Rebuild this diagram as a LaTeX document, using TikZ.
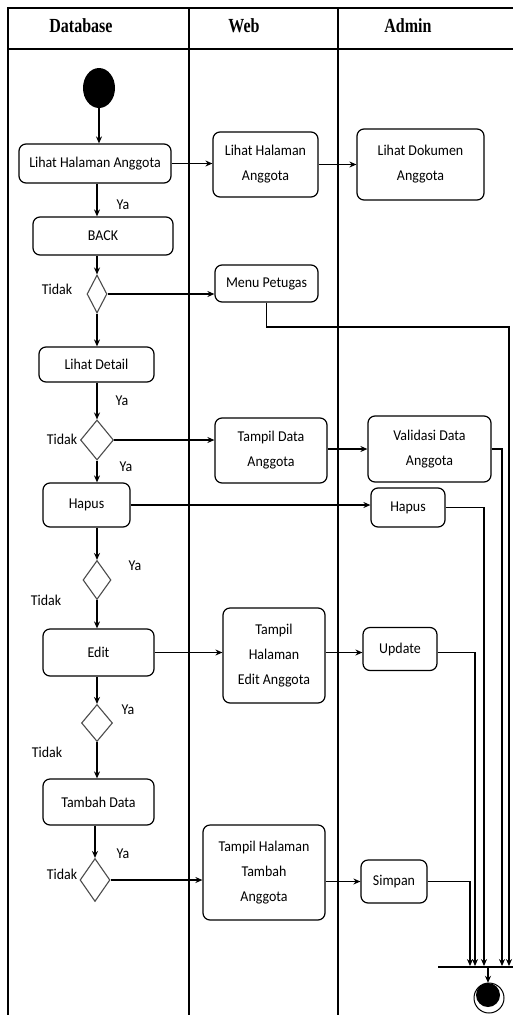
\documentclass[tikz,border=0pt]{standalone}
\usepackage{fontspec}
\setmainfont{Carlito}
\newfontfamily\mybodyfont[FakeStretch=0.93]{Carlito}
\newfontfamily\myhdrfont[FakeStretch=0.8]{Liberation Serif}
\usetikzlibrary{shapes.geometric,arrows.meta}
\newcommand{\mybody}{\mybodyfont\fontsize{15}{25}\selectfont}
\newcommand{\myhdr}{\myhdrfont\bfseries\fontsize{20}{24}\selectfont}
\begin{document}
\begin{tikzpicture}[x=1pt,y=-1pt,
 act/.style={draw, rounded corners=7pt, line width=1.2pt, inner sep=0pt, align=center, font=\mybody},
 dec/.style={draw=black!70, diamond, line width=1.1pt, inner sep=0pt},
 lbl/.style={inner sep=0pt, font=\mybody},
 hdr/.style={inner sep=0pt, font=\myhdr},
 lane/.style={line width=1.3pt},
 flow/.style={line width=1.2pt, -{Stealth[length=7pt,width=6pt]}}]
\useasboundingbox (0,0) rectangle (512,1015);
\fill[white] (0,0) rectangle (512,1015);
% swimlanes
\draw[lane] (514,8) -- (8,8) -- (8,1016);
\draw[lane] (8,49) -- (514,49);
\draw[lane] (189,8) -- (189,1016);
\draw[lane] (338,8) -- (338,1016);
\node[hdr] (hDb) at (81,26) {Database};
\node[hdr] (hWeb) at (244,26) {Web};
\node[hdr] (hAdm) at (408,26) {Admin};
% start
\node[ellipse, fill=black, minimum width=32, minimum height=40, inner sep=0pt] (init) at (99,88) {};
% activities
\node[act, minimum width=152, minimum height=39] (dbLihat) at (95,163.5) {Lihat Halaman Anggota};
\node[act, minimum width=105, minimum height=65] (webLihat) at (265.5,164.5) {Lihat Halaman\\Anggota};
\node[act, minimum width=127, minimum height=71] (admDok) at (420.5,164.5) {Lihat Dokumen\\Anggota};
\node[act, minimum width=140, minimum height=38] (back) at (103,236) {BACK};
\node[act, minimum width=103, minimum height=37] (menu) at (266.5,283.5) {Menu Petugas};
\node[act, minimum width=115, minimum height=35] (detail) at (96.5,364.5) {Lihat Detail};
\node[act, minimum width=112, minimum height=65] (tampilData) at (271,450.5) {Tampil Data\\Anggota};
\node[act, minimum width=123, minimum height=66] (validasi) at (429.5,449) {Validasi Data\\Anggota};
\node[act, minimum width=87, minimum height=44] (hapusDb) at (86.5,505) {Hapus};
\node[act, minimum width=74, minimum height=39] (hapusAdm) at (408,507.5) {Hapus};
\node[act, minimum width=111, minimum height=47] (edit) at (98.5,652.5) {Edit};
\node[act, minimum width=102, minimum height=95] (tampilEdit) at (274,655.5) {Tampil\\Halaman\\Edit Anggota};
\node[act, minimum width=74, minimum height=43] (update) at (400,649) {Update};
\node[act, minimum width=111, minimum height=46] (tambah) at (98.5,802) {Tambah Data};
\node[act, minimum width=122, minimum height=95] (tampilTambah) at (264,872.5) {Tampil Halaman\\Tambah\\Anggota};
\node[act, minimum width=66, minimum height=43] (simpan) at (394,881.5) {Simpan};
% decisions
\node[dec, minimum width=20, minimum height=38] (d1) at (97,294) {};
\node[dec, minimum width=33, minimum height=40] (d2) at (97,440) {};
\node[dec, minimum width=28, minimum height=39] (d3) at (97,580) {};
\node[dec, minimum width=31, minimum height=37] (d4) at (97,723) {};
\node[dec, minimum width=30, minimum height=43] (d5) at (95,880) {};
% join bar and end
\node[fill=black, minimum width=76, minimum height=1.5, inner sep=0pt] (bar) at (476,967) {};
\node[circle, draw, line width=1pt, minimum size=30, inner sep=0pt] (finO) at (489,998) {};
\node[circle, fill=black, minimum size=24, inner sep=0pt] (fin) at (488,995) {};
% coordinates of the right-side collector lines
\coordinate (c1) at (470,0);
\coordinate (c2) at (475,0);
\coordinate (c3) at (484,0);
\coordinate (c4) at (502,0);
\coordinate (m1) at (509,327);
% labels
\node[lbl] (ya1) at (123,205) {Ya};
\node[lbl] (ti1) at (57,289) {Tidak};
\node[lbl] (ya2) at (122,401) {Ya};
\node[lbl] (ti2) at (62,439) {Tidak};
\node[lbl] (ya3) at (126,467) {Ya};
\node[lbl] (ya4) at (135,566) {Ya};
\node[lbl] (ti4) at (46,600) {Tidak};
\node[lbl] (ya5) at (128,710) {Ya};
\node[lbl] (ti5) at (47,752) {Tidak};
\node[lbl] (ya6) at (123,854) {Ya};
\node[lbl] (ti6) at (62,874) {Tidak};
% flows
\draw[flow] (init.south) -- (init.south |- dbLihat.north);
\draw[flow] (dbLihat.east) -- (webLihat.west |- dbLihat.east);
\draw[flow] (webLihat.east) -- (admDok.west |- webLihat.east);
\draw[flow] (dbLihat.south -| d1) -- (back.north -| d1);
\draw[flow] (back.south -| d1) -- (d1.north);
\draw[flow] (d1.east) -- (menu.west |- d1.east);
\draw[flow] (menu.south) |- (m1) -- (m1 |- bar.north);
\draw[flow] (d1.south) -- (detail.north -| d1);
\draw[flow] (detail.south -| d2) -- (d2.north);
\draw[flow] (d2.east) -- (tampilData.west |- d2.east);
\draw[flow] (tampilData.east |- validasi.west) -- (validasi.west);
\draw[flow] (validasi.east) -| (c4 |- bar.north);
\draw[flow] (d2.south) -- (hapusDb.north -| d2);
\draw[flow] (hapusDb.east) -- (hapusAdm.west |- hapusDb.east);
\draw[flow] (hapusAdm.east) -| (c3 |- bar.north);
\draw[flow] (hapusDb.south -| d3) -- (d3.north);
\draw[flow] (d3.south) -- (edit.north -| d3);
\draw[flow] (edit.east) -- (tampilEdit.west |- edit.east);
\draw[flow] (tampilEdit.east |- edit.east) -- (update.west |- edit.east);
\draw[flow] (update.east |- edit.east) -| (c2 |- bar.north);
\draw[flow] (edit.south -| d4) -- (d4.north);
\draw[flow] (d4.south) -- (tambah.north -| d4);
\draw[flow] (tambah.south -| d5) -- (d5.north);
\draw[flow] (d5.east) -- (tampilTambah.west |- d5.east);
\draw[flow] (tampilTambah.east |- simpan.west) -- (simpan.west);
\draw[flow] (simpan.east) -| (c1 |- bar.north);
\draw[flow] (bar.south -| fin) -- (fin.north);
\end{tikzpicture}
\end{document}
